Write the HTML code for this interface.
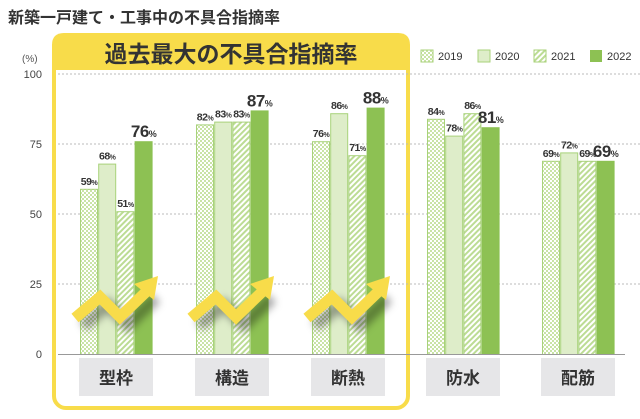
<!DOCTYPE html>
<html><head><meta charset="utf-8"><style>
body{margin:0;background:#fff;width:640px;height:419px;overflow:hidden}
svg{display:block}
text{font-family:"Liberation Sans","Noto Sans CJK JP",sans-serif}
</style></head><body>
<svg width="640" height="419" viewBox="0 0 640 419">
<defs>
<pattern id="chk" width="4" height="4" patternUnits="userSpaceOnUse">
<rect width="4" height="4" fill="#fff"/><rect width="2" height="2" fill="#c9e3a6"/><rect x="2" y="2" width="2" height="2" fill="#c9e3a6"/>
</pattern>
<pattern id="hat" width="4" height="4" patternUnits="userSpaceOnUse" patternTransform="rotate(45)">
<rect width="4" height="4" fill="#fff"/><rect width="2" height="4" fill="#bcdc94"/>
</pattern>
<filter id="sh" x="-30%" y="-30%" width="160%" height="180%"><feGaussianBlur stdDeviation="4"/></filter>
</defs>
<text x="8" y="23" font-size="16" font-weight="bold" fill="#333">新築一戸建て・工事中の不具合指摘率</text>
<!-- yellow frame -->
<rect x="54" y="35" width="354" height="373" rx="12" fill="none" stroke="#f8dc4a" stroke-width="4"/>
<path d="M52 70 V45 Q52 33 64 33 H398 Q410 33 410 45 V70 Z" fill="#f8dc4a"/>
<text x="231" y="62" font-size="23" font-weight="bold" fill="#333" text-anchor="middle">過去最大の不具合指摘率</text>
<!-- axis -->
<text x="22" y="62" font-size="10" fill="#555">(%)</text>
<g font-size="11" fill="#444" text-anchor="end">
<text x="42" y="78">100</text><text x="42" y="148">75</text><text x="42" y="218">50</text><text x="42" y="288">25</text><text x="42" y="358">0</text>
</g>
<g stroke="#bbb" stroke-dasharray="2,2" stroke-width="1">
<line x1="58" y1="74" x2="640" y2="74"/><line x1="58" y1="144" x2="640" y2="144"/><line x1="58" y1="214" x2="640" y2="214"/><line x1="58" y1="284" x2="640" y2="284"/>
</g>
<!-- legend -->
<g font-size="11" fill="#333">
<rect x="421" y="50" width="12" height="12" fill="url(#chk)" stroke="#a8d27a"/><text x="438" y="60">2019</text>
<rect x="478" y="50" width="12" height="12" fill="#deedc9" stroke="#a8d27a"/><text x="495" y="60">2020</text>
<rect x="534" y="50" width="12" height="12" fill="url(#hat)" stroke="#a8d27a"/><text x="551" y="60">2021</text>
<rect x="590" y="50" width="12" height="12" fill="#8dc153"/><text x="607" y="60">2022</text>
</g>
<g id="bars"></g>
<line x1="58" y1="354.5" x2="625" y2="354.5" stroke="#999" stroke-width="1"/>
<g id="cats"></g>
<g id="arrows"></g>
</svg>
<script>
var data=[["型枠",[59,68,51,76]],["構造",[82,83,83,87]],["断熱",[76,86,71,88]],["防水",[84,78,86,81]],["配筋",[69,72,69,69]]];
var starts=[80,196,312,427,542];
var fills=["url(#chk)","#deedc9","url(#hat)","#8dc153"];
var ns="http://www.w3.org/2000/svg";
function el(t,a,p,txt){var e=document.createElementNS(ns,t);for(var k in a)e.setAttribute(k,a[k]);if(txt!=null)e.textContent=txt;p.appendChild(e);return e;}
var B=document.getElementById("bars"),C=document.getElementById("cats"),A=document.getElementById("arrows");
data.forEach(function(d,i){
 var x0=starts[i];
 d[1].forEach(function(v,j){
  var x=x0+j*18.2,y=354-2.8*v,h=2.8*v;
  el("rect",{x:x+0.5,y:y+0.5,width:17,height:h,fill:fills[j],stroke:j==3?"#8dc153":"#a8d27a","stroke-width":1},B);
  var t=el("text",{x:x+9,y:y-4,"text-anchor":"middle","font-weight":"bold",fill:"#333","font-size":j==3?17:10.5,"letter-spacing":j==3?"-0.5":"-0.5"},B);
  t.textContent=v;
  el("tspan",{"font-size":j==3?9:7},t,"%");
 });
 el("rect",{x:x0-1,y:358,width:74,height:38,fill:"#e6e6e8"},C);
 el("text",{x:x0+36,y:384,"text-anchor":"middle","font-size":17,"font-weight":"bold",fill:"#333"},C,d[0]);
 if(i<3){
  var pts=(x0-5)+",318 "+(x0+20)+",297 "+(x0+40)+",317 "+(x0+68)+",290";
  el("polyline",{points:(x0+3)+",326 "+(x0+28)+",305 "+(x0+48)+",325 "+(x0+76)+",298",fill:"none",stroke:"rgba(0,0,0,0.35)","stroke-width":12,filter:"url(#sh)"},A);
  el("polyline",{points:pts,fill:"none",stroke:"#f8dc4a","stroke-width":11,"stroke-linejoin":"miter"},A);
  el("polygon",{points:(x0+54)+",284 "+(x0+78)+",276 "+(x0+74)+",300",fill:"#f8dc4a"},A);
 }
});
</script>
</body></html>
